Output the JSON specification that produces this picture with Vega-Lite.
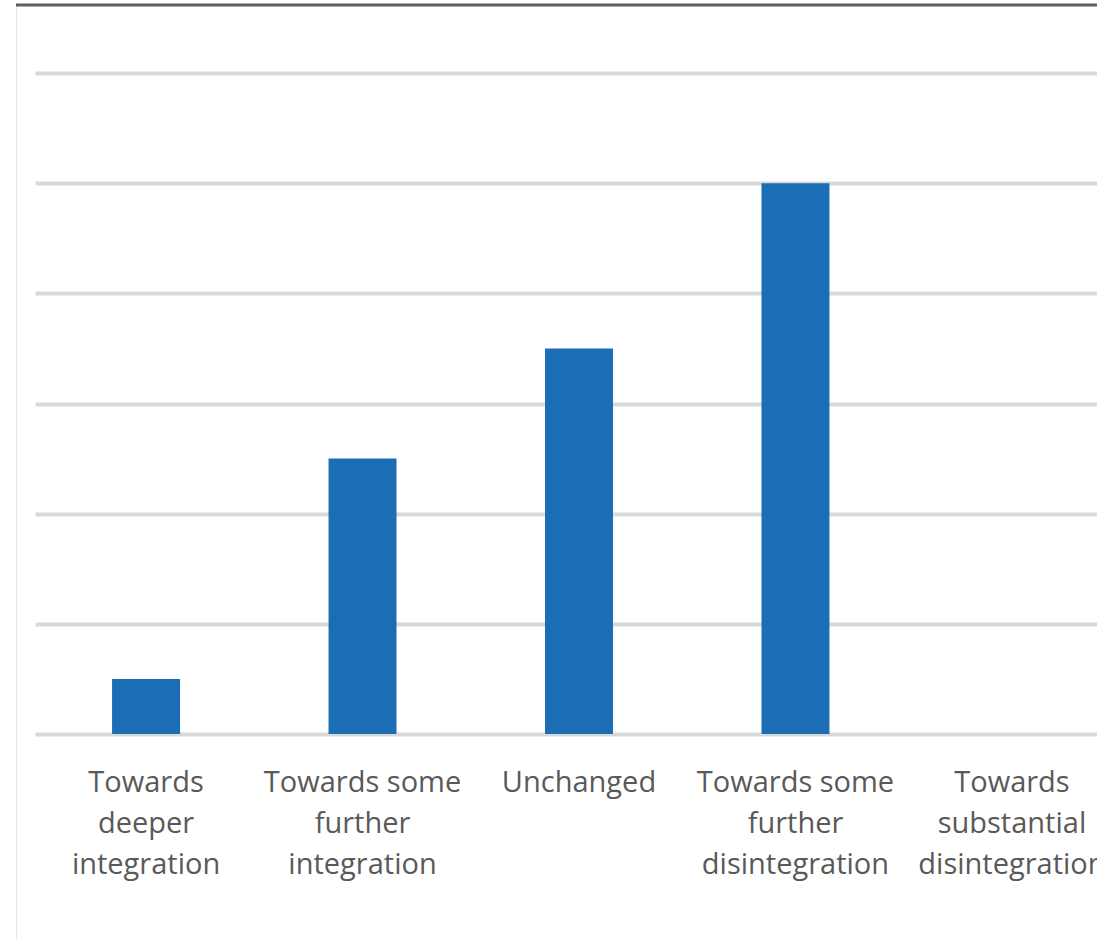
{
  "$schema": "https://vega.github.io/schema/vega-lite/v6.json",
  "autosize": {"type": "none"},
  "width": 1081,
  "height": 950,
  "padding": {"left": 16, "top": 5, "right": 0, "bottom": -16},
  "background": "#ffffff",
  "config": {
    "view": {"stroke": "#e6e6e6", "strokeWidth": 1},
    "font": "Open Sans"
  },
  "data": {
    "values": [
      {"direction": "Towards deeper integration", "responses": 1},
      {"direction": "Towards some further integration", "responses": 5},
      {"direction": "Unchanged", "responses": 7},
      {"direction": "Towards some further disintegration", "responses": 10},
      {"direction": "Towards substantial disintegration", "responses": 0}
    ]
  },
  "layer": [
    {
      "mark": {"type": "bar", "color": "#1b6db5"},
      "encoding": {
        "x": {
          "field": "direction",
          "type": "nominal",
          "sort": null,
          "scale": {"rangeMin": 19, "rangeMax": 1107, "paddingInner": 0.686, "paddingOuter": 0.356},
          "axis": {
            "orient": "bottom",
            "offset": -221,
            "title": null,
            "domain": false,
            "ticks": false,
            "labelAngle": 0,
            "labelFont": "Open Sans",
            "labelFontSize": 29,
            "labelColor": "#595959",
            "labelLineHeight": 41,
            "labelPadding": 34,
            "labelLimit": 0,
            "labelOverlap": false,
            "labelExpr": "datum.value == 'Towards deeper integration' ? ['Towards', 'deeper', 'integration'] : datum.value == 'Towards some further integration' ? ['Towards some', 'further', 'integration'] : datum.value == 'Towards some further disintegration' ? ['Towards some', 'further', 'disintegration'] : datum.value == 'Towards substantial disintegration' ? ['Towards', 'substantial', 'disintegration'] : datum.value"
          }
        },
        "y": {
          "field": "responses",
          "type": "quantitative",
          "scale": {"domain": [-4.0121, 13.2345], "nice": false, "zero": false},
          "axis": {
            "title": null,
            "labels": false,
            "ticks": false,
            "domain": false,
            "grid": true,
            "values": [0, 2, 4, 6, 8, 10, 12],
            "gridColor": "#d9d9d9",
            "gridWidth": 4
          }
        }
      }
    },
    {
      "data": {"values": [{"edge": 13.2345}]},
      "mark": {"type": "rule", "color": "#5f5f5f", "strokeWidth": 3},
      "encoding": {
        "y": {"field": "edge", "type": "quantitative"}
      }
    }
  ]
}
